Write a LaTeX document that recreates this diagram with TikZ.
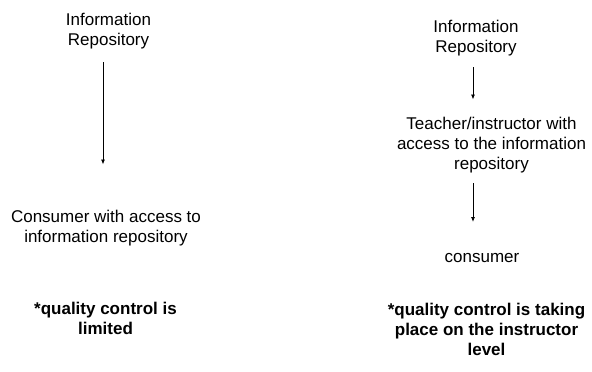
\documentclass[tikz,border=0pt]{standalone}
\usepackage{fontspec}
\setmainfont{Liberation Sans}
\usetikzlibrary{arrows.meta}

\tikzset{txt/.style={anchor=north,align=center,inner sep=0pt,font=\fontsize{17}{20.4}\selectfont},
	bold/.style={txt,font=\fontsize{17}{20.4}\selectfont\bfseries},
	arr/.style={line width=0.8pt,-{Latex[length=5pt,width=4pt]}}}

\begin{document}
\begin{tikzpicture}[x=1pt,y=1pt]
\useasboundingbox (0,0) rectangle (592,-372);
% left: direct access
\node[txt] (infoL) at (108.5,-12.5) {Information\\Repository};
\node[txt] (consL) at (106,-209.5) {Consumer with access to\\information repository};
\node[bold] (qcL) at (105.5,-302) {*quality control is\\limited};
\draw[arr,shorten <=13pt,shorten >=45pt] (infoL.south -| 103,0) -- (consL.north -| 103,0);

% right: through the instructor
\node[txt] (infoR) at (476,-19.5) {Information\\Repository};
\node[txt] (teach) at (491.5,-116.5) {Teacher/instructor with\\access to the information\\repository};
\node[txt] (consR) at (482,-253) {consumer};
\node[bold] (qcR) at (486.5,-302.5) {*quality control is taking\\place on the instructor\\level};
\draw[arr,shorten <=11pt,shorten >=17pt] (infoR.south -| 473,0) -- (teach.north -| 473,0);
\draw[arr,shorten <=9.5pt,shorten >=31pt] (teach.south -| 473,0) -- (consR.north -| 473,0);

\end{tikzpicture}
\end{document}
